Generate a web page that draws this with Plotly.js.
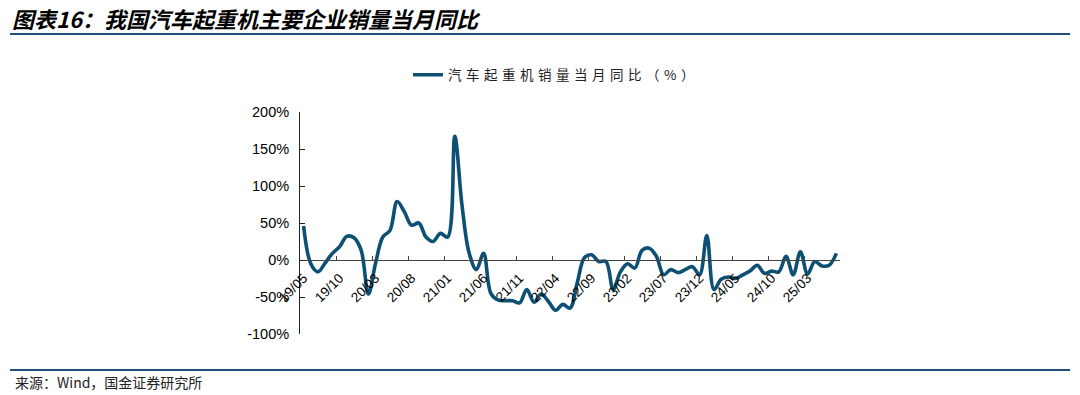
<!DOCTYPE html>
<html>
<head>
<meta charset="utf-8">
<script src="https://cdn.plot.ly/plotly-3.0.1.min.js"></script>
<style>
  html, body { margin: 0; padding: 0; background: #fff; }
  #chart { width: 1080px; height: 395px; }
  .legendtext { letter-spacing: 4.5px; }
</style>
</head>
<body>
<div id="chart"></div>
<script>
const months = [
  "19/05","19/06","19/07","19/08","19/09","19/10","19/11","19/12",
  "20/01","20/02","20/03","20/04","20/05","20/06","20/07","20/08","20/09","20/10","20/11","20/12",
  "21/01","21/02","21/03","21/04","21/05","21/06","21/07","21/08","21/09","21/10","21/11","21/12",
  "22/01","22/02","22/03","22/04","22/05","22/06","22/07","22/08","22/09","22/10","22/11","22/12",
  "23/01","23/02","23/03","23/04","23/05","23/06","23/07","23/08","23/09","23/10","23/11","23/12",
  "24/01","24/02","24/03","24/04","24/05","24/06","24/07","24/08","24/09","24/10","24/11","24/12",
  "25/01","25/02","25/03","25/04","25/05","25/06","25/07"
];
const yoySales = [
  46, -5, -16, -4, 9, 18, 32, 30,
  13, -46, -4, 31, 40, 79, 65, 47, 50, 31, 25, 36,
  31, 167, 74, 9, -13, 9, -45, -54, -55, -55, -58, -40,
  -57, -46, -56, -68, -60, -65, -31, 3, 7, -2, -2, -40,
  -16, -5, -11, 13, 16, 5, -20, -13, -17, -13, -9, -20,
  33, -40, -26, -23, -25, -20, -15, -7, -18, -15, -16, 5,
  -20, 11, -19, -2, -8, -7, 9
];
const yTickVals = [200, 150, 100, 50, 0, -50, -100];
const yTickText = ["200%", "150%", "100%", "50%", "0%", "-50%", "-100%"];
const seriesName = "汽车起重机销量当月同比（%）";
const chartTitle = "图表16：我国汽车起重机主要企业销量当月同比";
const sourceText = "来源：Wind，国金证券研究所";

const latin = "Arial, 'Liberation Sans', sans-serif";
const cjk = "'Noto Sans CJK SC', sans-serif";
const navy = "#1f4e79";

const trace = {
  x: months,
  y: yoySales,
  type: "scatter",
  mode: "lines",
  name: seriesName,
  line: { color: "#0d5073", width: 3.6, shape: "spline", smoothing: 1 },
  hoverinfo: "x+y"
};

const layout = {
  width: 1080, height: 395,
  margin: { l: 300, r: 240, t: 112, b: 61 },
  paper_bgcolor: "#fff", plot_bgcolor: "#fff",
  showlegend: true,
  legend: {
    orientation: "h", x: 0.2, xanchor: "left", y: 1.167, yanchor: "middle",
    font: { family: cjk, size: 13.5, color: "#222" }, bgcolor: "rgba(0,0,0,0)"
  },
  xaxis: {
    type: "category",
    range: [-0.5, months.length - 0.5],
    anchor: "free", position: 1/3,
    showline: true, linecolor: "#444", linewidth: 1,
    showgrid: false, zeroline: false,
    ticks: "inside", ticklen: 4, tickcolor: "#444",
    tickson: "boundaries",
    tick0: 0, dtick: 5,
    tickangle: -45,
    ticklabelstandoff: 4,
    tickfont: { family: latin, size: 13.5, color: "#000" }
  },
  yaxis: {
    range: [-100, 200],
    domain: [0, 1],
    showline: true, linecolor: "#222", linewidth: 1,
    showgrid: false, zeroline: false,
    ticks: "inside", ticklen: 5, tickcolor: "#222",
    tickvals: yTickVals, ticktext: yTickText,
    ticklabelstandoff: 7,
    tickfont: { family: latin, size: 14.5, color: "#000" }
  },
  shapes: [
    { type: "line", xref: "paper", yref: "paper", x0: -0.537, x1: 1.426, y0: 1.351, y1: 1.351,
      line: { color: navy, width: 2 } },
    { type: "line", xref: "paper", yref: "paper", x0: -0.537, x1: 1.426, y0: -0.162, y1: -0.162,
      line: { color: navy, width: 2 } }
  ],
  annotations: [
    { text: chartTitle, xref: "paper", yref: "paper", x: -0.537, y: 1.423,
      xanchor: "left", yanchor: "middle", showarrow: false,
      font: { family: cjk, size: 22, color: "#000", weight: 700, style: "italic" } },
    { text: sourceText, xref: "paper", yref: "paper", x: -0.531, y: -0.216,
      xanchor: "left", yanchor: "middle", showarrow: false,
      font: { family: cjk, size: 14, color: "#222" } }
  ]
};

Plotly.newPlot("chart", [trace], layout, { displayModeBar: false, staticPlot: true });
</script>
</body>
</html>
